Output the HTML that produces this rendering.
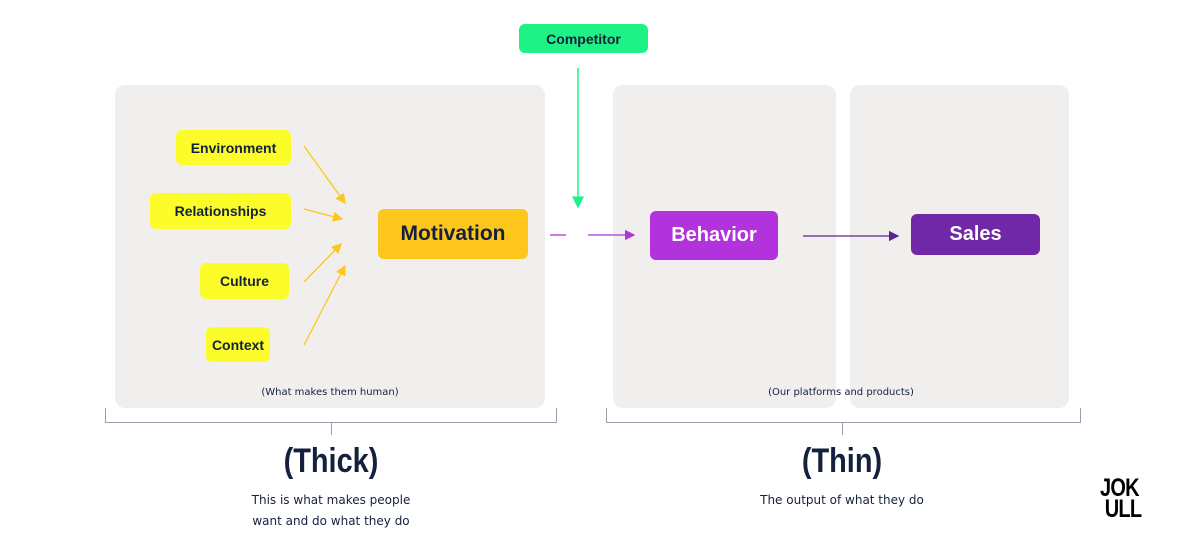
<!DOCTYPE html>
<html><head><style>
body{margin:0;width:1200px;height:558px;background:#fff;position:relative;overflow:hidden;font-family:"Liberation Sans",sans-serif;color:#14213d}
.a{position:absolute}
.p{background:#f1efee;border-radius:10px}
.n{position:absolute;display:flex;align-items:center;justify-content:center;font-weight:bold;border-radius:6px}
.y{background:#fcfc2a;font-size:14px}
.h{font-family:"Comic Sans MS","DejaVu Sans",sans-serif;font-size:11px;text-align:center;color:#14213d}
</style></head><body>
<div class="a p" style="left:115px;top:85px;width:430px;height:323px"></div>
<div class="a p" style="left:613px;top:85px;width:223px;height:323px"></div>
<div class="a p" style="left:850px;top:85px;width:219px;height:323px"></div>

<div class="n" style="left:519px;top:24px;width:129px;height:29px;background:#1ef287;font-size:14px">Competitor</div>
<div class="n y" style="left:176px;top:130px;width:115px;height:35px">Environment</div>
<div class="n y" style="left:150px;top:193px;width:141px;height:36px">Relationships</div>
<div class="n y" style="left:200px;top:263px;width:89px;height:36px">Culture</div>
<div class="n y" style="left:206px;top:327px;width:64px;height:35px">Context</div>
<div class="n" style="left:378px;top:209px;width:150px;height:50px;background:#fdc61c;font-size:21px">Motivation</div>
<div class="n" style="left:650px;top:211px;width:128px;height:49px;background:#b232dc;color:#fff;font-size:20px">Behavior</div>
<div class="n" style="left:911px;top:214px;width:129px;height:41px;background:#7028a8;color:#fff;font-size:20px">Sales</div>

<svg class="a" style="left:0;top:0" width="1200" height="558">
<defs>
<marker id="my" markerWidth="8" markerHeight="8" refX="7" refY="4" orient="auto"><path d="M0,0L8,4L0,8z" fill="#fdc61c"/></marker>
<marker id="mg" markerWidth="8" markerHeight="8" refX="7" refY="4" orient="auto"><path d="M0,0L8,4L0,8z" fill="#1ef287"/></marker>
<marker id="mp" markerWidth="8" markerHeight="8" refX="7" refY="4" orient="auto"><path d="M0,0L8,4L0,8z" fill="#b232dc"/></marker>
<marker id="md" markerWidth="8" markerHeight="8" refX="7" refY="4" orient="auto"><path d="M0,0L8,4L0,8z" fill="#5a2590"/></marker>
</defs>
<g stroke="#fdc61c" stroke-width="1.3" marker-end="url(#my)">
<line x1="304" y1="146" x2="345" y2="203"/>
<line x1="304" y1="209" x2="342" y2="219"/>
<line x1="304" y1="282" x2="341" y2="244"/>
<line x1="304" y1="345" x2="345" y2="266"/>
</g>
<line x1="578" y1="68" x2="578" y2="207" stroke="#1ef287" stroke-width="1.5" marker-end="url(#mg)"/>
<line x1="550" y1="235" x2="566" y2="235" stroke="#b232dc" stroke-width="1.3"/>
<line x1="588" y1="235" x2="634" y2="235" stroke="#b232dc" stroke-width="1.3" marker-end="url(#mp)"/>
<line x1="803" y1="236" x2="898" y2="236" stroke="#5a2590" stroke-width="1.3" marker-end="url(#md)"/>
<g stroke="#9aa0ad" stroke-width="1" fill="none">
<path d="M105.5,408V422.5H556.5V408M331.5,422V435"/>
<path d="M606.5,408V422.5H1080.5V408M842.5,422V435"/>
</g>
</svg>

<div class="a h" style="left:115px;top:387px;width:430px;font-size:10px">(What makes them human)</div>
<div class="a h" style="left:613px;top:387px;width:456px;font-size:10px">(Our platforms and products)</div>
<div class="a" style="left:231px;top:442px;width:200px;text-align:center;font-weight:bold;font-size:34px;transform:scaleX(0.85)">(Thick)</div>
<div class="a" style="left:742px;top:442px;width:200px;text-align:center;font-weight:bold;font-size:34px;transform:scaleX(0.85)">(Thin)</div>
<div class="a h" style="left:211px;top:490px;width:240px;line-height:21px;font-size:12px">This is what makes people<br>want and do what they do</div>
<div class="a h" style="left:722px;top:490px;width:240px;line-height:21px;font-size:12px">The output of what they do</div>
<div class="a" style="left:1100px;top:478px;width:70px;font-weight:bold;font-size:25px;line-height:21px;color:#000;letter-spacing:-1px;transform:scaleX(0.8);transform-origin:left top">JOK<br>&nbsp;ULL</div>
</body></html>
